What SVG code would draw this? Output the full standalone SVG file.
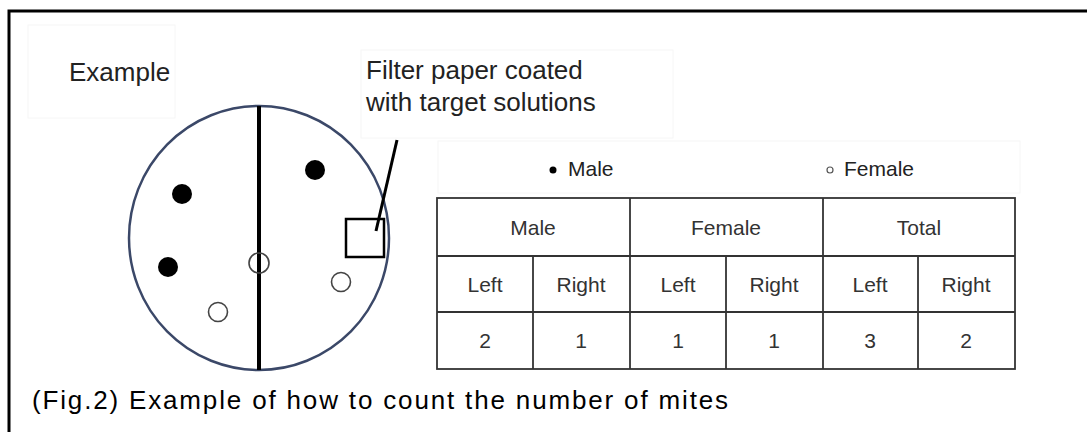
<svg xmlns="http://www.w3.org/2000/svg" width="1087" height="432" viewBox="0 0 1087 432">
<style>
  .lbl { font-family: "Liberation Sans", Arial, sans-serif; fill: #222; }
  .cell { font-family: "Liberation Sans", Arial, sans-serif; font-size: 21px; fill: #333; text-anchor: middle; }
  .faint { fill: none; stroke: #f6f6f6; stroke-width: 1; }
  .grid { stroke: #333; stroke-width: 1.8; fill: none; }
  .male { fill: #000; }
  .female { fill: none; stroke: #444; stroke-width: 1.6; }
</style>
<rect width="1087" height="432" fill="#fff"/>
<g id="frame">
  <path d="M9,432 L9,11 L1087,11" fill="none" stroke="#000" stroke-width="3"/>
</g>
<g id="example-label">
  <rect class="faint" x="28" y="25" width="147" height="93"/>
  <text class="lbl" x="69" y="81" font-size="26">Example</text>
</g>
<g id="filter-label">
  <rect class="faint" x="361" y="50" width="312" height="88"/>
  <text class="lbl" x="366" y="79" font-size="26">Filter paper coated</text>
  <text class="lbl" x="366" y="111" font-size="26">with target solutions</text>
</g>
<g id="dish">
  <ellipse cx="259" cy="238" rx="130" ry="132" fill="#fff" stroke="#3b4868" stroke-width="2.5"/>
  <line x1="259" y1="106" x2="259" y2="370" stroke="#000" stroke-width="4"/>
  <rect x="346" y="219" width="38" height="38" fill="none" stroke="#000" stroke-width="2.5"/>
  <circle class="male" cx="182" cy="194" r="10"/>
  <circle class="male" cx="168" cy="267" r="10"/>
  <circle class="male" cx="315" cy="170" r="10"/>
  <circle class="female" cx="259" cy="263" r="10"/>
  <circle class="female" cx="341" cy="282" r="9.5"/>
  <circle class="female" cx="218" cy="312" r="9.5"/>
</g>
<g id="connectors">
  <line x1="397" y1="140" x2="376" y2="231" stroke="#000" stroke-width="3"/>
</g>
<g id="legend">
  <rect class="faint" x="438" y="141" width="582" height="52"/>
  <circle cx="553" cy="170" r="3.5" fill="#000"/>
  <text class="lbl" x="568" y="176" font-size="21" fill="#333">Male</text>
  <circle cx="830" cy="170" r="3" fill="#fff" stroke="#555" stroke-width="1.2"/>
  <text class="lbl" x="844" y="176" font-size="21" fill="#333">Female</text>
</g>
<g id="table">
  <rect class="grid" x="437" y="198" width="578" height="171"/>
  <line class="grid" x1="437" y1="256" x2="1015" y2="256"/>
  <line class="grid" x1="437" y1="312" x2="1015" y2="312"/>
  <line class="grid" x1="630" y1="198" x2="630" y2="369"/>
  <line class="grid" x1="823" y1="198" x2="823" y2="369"/>
  <line class="grid" x1="533" y1="256" x2="533" y2="369"/>
  <line class="grid" x1="726" y1="256" x2="726" y2="369"/>
  <line class="grid" x1="918" y1="256" x2="918" y2="369"/>
  <text class="cell" x="533" y="235">Male</text>
  <text class="cell" x="726" y="235">Female</text>
  <text class="cell" x="919" y="235">Total</text>
  <text class="cell" x="485" y="292">Left</text>
  <text class="cell" x="581" y="292">Right</text>
  <text class="cell" x="678" y="292">Left</text>
  <text class="cell" x="774" y="292">Right</text>
  <text class="cell" x="870" y="292">Left</text>
  <text class="cell" x="966" y="292">Right</text>
  <text class="cell" x="485" y="348">2</text>
  <text class="cell" x="581" y="348">1</text>
  <text class="cell" x="678" y="348">1</text>
  <text class="cell" x="774" y="348">1</text>
  <text class="cell" x="870" y="348">3</text>
  <text class="cell" x="966" y="348">2</text>
</g>
<g id="caption">
  <text x="32" y="409" font-family="'Liberation Sans', Arial, sans-serif" font-size="26" fill="#000" textLength="696" lengthAdjust="spacing">(Fig.2) Example of how to count the number of mites</text>
</g>
</svg>
